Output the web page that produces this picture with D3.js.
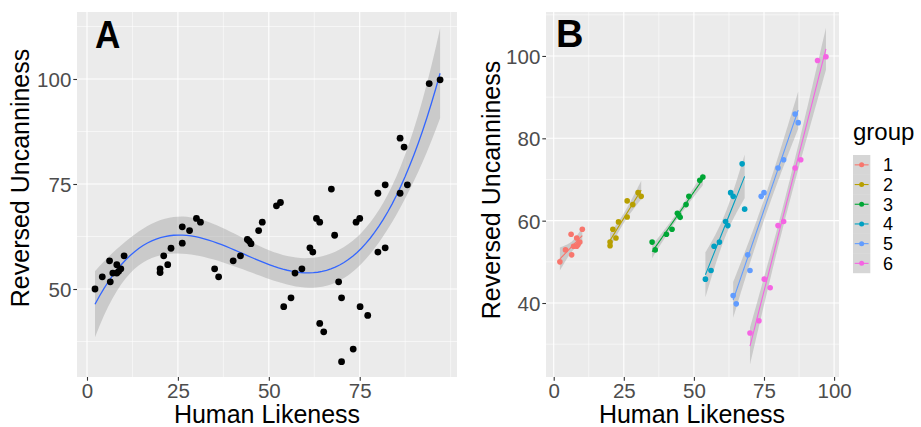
<!DOCTYPE html>
<html>
<head>
<meta charset="utf-8">
<script src="https://cdn.jsdelivr.net/npm/d3@7"></script>
<style>
  html, body { margin: 0; padding: 0; background: #fff; }
  svg { display: block; font-family: "Liberation Sans", Arial, sans-serif; }
</style>
</head>
<body>
<svg id="chart" width="921" height="427"></svg>
<script>
// ---------------- DATA ----------------
const likeness = [2.2, 4.2, 6.2, 6.4, 7.1, 8.2, 8.2, 8.7, 9.3, 10.2,
  20.1, 20.1, 21.1, 22.2, 23.1, 26.2, 26.2, 28.2, 30.1, 31.2,
  35.1, 36.2, 40.2, 42.2, 44.1, 44.6, 45.1, 47.2, 48.2, 52.1, 53.2,
  54.1, 56.1, 57.2, 59.1, 61.3, 62.1, 63.1, 64.0, 67.2, 68.1,
  64.0, 65.1, 69.2, 70.0, 74.0, 75.0, 80.0, 82.0, 86.1, 87.2,
  70.0, 73.2, 75.1, 77.2, 80.0, 82.0, 86.1, 88.1, 94.1, 97.1];
const uncanny = [50.0, 52.9, 56.7, 51.7, 53.8, 55.8, 53.8, 54.2, 54.8, 57.9,
  54.8, 53.9, 57.9, 55.8, 59.7, 60.9, 64.8, 63.9, 66.8, 65.9,
  54.8, 52.9, 56.7, 57.9, 61.8, 61.4, 60.8, 63.9, 65.9, 69.8, 70.6,
  45.8, 47.9, 53.8, 54.8, 59.8, 58.8, 66.8, 65.9, 73.8, 62.8,
  41.8, 39.8, 51.7, 47.9, 65.9, 66.8, 72.8, 74.8, 85.9, 83.8,
  32.7, 35.7, 45.8, 43.7, 58.8, 59.8, 72.8, 74.8, 98.9, 99.8];
const group = [1,1,1,1,1,1,1,1,1,1,
  2,2,2,2,2,2,2,2,2,2,
  3,3,3,3,3,3,3,3,3,3,3,
  4,4,4,4,4,4,4,4,4,4,
  5,5,5,5,5,5,5,5,5,5,
  6,6,6,6,6,6,6,6,6,6];
const groupLevels = [1, 2, 3, 4, 5, 6];
const groupColors = ["#F8766D", "#B79F00", "#00A635", "#00A0C2", "#619CFF", "#F564E3"];

const xTicksA = [0, 25, 50, 75];
const yTicksA = [50, 75, 100];
const xTicksB = [0, 25, 50, 75, 100];
const yTicksB = [40, 60, 80, 100];

// ---------------- FIT HELPERS (lm, like geom_smooth) ----------------
function invert(M) {
  const n = M.length;
  const A = M.map((r, i) => r.concat(Array.from({length: n}, (_, j) => i === j ? 1 : 0)));
  for (let c = 0; c < n; c++) {
    let p = c;
    for (let r = c + 1; r < n; r++) if (Math.abs(A[r][c]) > Math.abs(A[p][c])) p = r;
    [A[c], A[p]] = [A[p], A[c]];
    const d = A[c][c];
    for (let j = 0; j < 2 * n; j++) A[c][j] /= d;
    for (let r = 0; r < n; r++) if (r !== c) {
      const f = A[r][c];
      for (let j = 0; j < 2 * n; j++) A[r][j] -= f * A[c][j];
    }
  }
  return A.map(r => r.slice(n));
}
function tQuantile975(df) {
  const z = 1.959964;
  const g1 = (z ** 3 + z) / 4;
  const g2 = (5 * z ** 5 + 16 * z ** 3 + 3 * z) / 96;
  const g3 = (3 * z ** 7 + 19 * z ** 5 + 17 * z ** 3 - 15 * z) / 384;
  const g4 = (79 * z ** 9 + 776 * z ** 7 + 1482 * z ** 5 - 1920 * z ** 3 - 945 * z) / 92160;
  return z + g1 / df + g2 / df ** 2 + g3 / df ** 3 + g4 / df ** 4;
}
function polyFit(xs, ys, deg) {
  const c = d3.mean(xs), s = (d3.max(xs) - d3.min(xs)) / 2 || 1;
  const basis = x => { const u = (x - c) / s; return d3.range(deg + 1).map(k => u ** k); };
  const X = xs.map(basis);
  const p = deg + 1, n = xs.length;
  const XtX = d3.range(p).map(i => d3.range(p).map(j => d3.sum(X, r => r[i] * r[j])));
  const Xty = d3.range(p).map(i => d3.sum(X, (r, k) => r[i] * ys[k]));
  const inv = invert(XtX);
  const beta = inv.map(r => d3.sum(r, (v, j) => v * Xty[j]));
  const rss = d3.sum(X, (r, k) => (ys[k] - d3.sum(r, (v, j) => v * beta[j])) ** 2);
  const s2 = rss / (n - p);
  const t = tQuantile975(n - p);
  return x0 => {
    const v = basis(x0);
    const fit = d3.sum(v, (a, j) => a * beta[j]);
    let q = 0;
    for (let i = 0; i < p; i++) for (let j = 0; j < p; j++) q += v[i] * inv[i][j] * v[j];
    const se = Math.sqrt(s2 * q);
    return {x: x0, fit, lo: fit - t * se, hi: fit + t * se};
  };
}
function smoothCurve(xs, ys, deg) {
  const f = polyFit(xs, ys, deg);
  const x0 = d3.min(xs), x1 = d3.max(xs);
  return d3.range(80).map(i => f(x0 + (x1 - x0) * i / 79));
}

// ---------------- DRAW ----------------
const svg = d3.select("#chart");
const BG = "#EBEBEB";
const tickCol = "#333333";
const labCol = "#4D4D4D";

function panel(cfg) {
  const {x, y, xTicks, yTicks, xMinor, yMinor, clipId} = cfg;
  const [x0, x1] = x.range(), [y0, y1] = y.range();
  const g = svg.append("g");
  g.append("rect").attr("x", x0).attr("y", y1).attr("width", x1 - x0).attr("height", y0 - y1).attr("fill", BG);
  svg.append("clipPath").attr("id", clipId).append("rect")
    .attr("x", x0).attr("y", y1).attr("width", x1 - x0).attr("height", y0 - y1);
  g.selectAll(".vmin").data(xMinor).join("line")
    .attr("x1", d => x(d)).attr("x2", d => x(d)).attr("y1", y1).attr("y2", y0)
    .attr("stroke", "#fff").attr("stroke-width", 0.55);
  g.selectAll(".hmin").data(yMinor).join("line")
    .attr("y1", d => y(d)).attr("y2", d => y(d)).attr("x1", x0).attr("x2", x1)
    .attr("stroke", "#fff").attr("stroke-width", 0.55);
  g.selectAll(".vmaj").data(xTicks).join("line")
    .attr("x1", d => x(d)).attr("x2", d => x(d)).attr("y1", y1).attr("y2", y0)
    .attr("stroke", "#fff").attr("stroke-width", 1.1);
  g.selectAll(".hmaj").data(yTicks).join("line")
    .attr("y1", d => y(d)).attr("y2", d => y(d)).attr("x1", x0).attr("x2", x1)
    .attr("stroke", "#fff").attr("stroke-width", 1.1);
  const ax = g.append("g").attr("transform", `translate(0,${y0})`)
    .call(d3.axisBottom(x).tickValues(xTicks).tickSize(3.7).tickPadding(3));
  const ay = g.append("g").attr("transform", `translate(${x0},0)`)
    .call(d3.axisLeft(y).tickValues(yTicks).tickSize(3.7).tickPadding(2));
  [ax, ay].forEach(a => {
    a.select(".domain").remove();
    a.selectAll(".tick line").attr("stroke", tickCol).attr("stroke-width", 1.1);
    a.selectAll(".tick text").attr("fill", labCol).style("font-size", "20.5px")
      .style("font-family", "'Liberation Sans', Arial, sans-serif");
  });
  ax.selectAll(".tick text").attr("dy", null).attr("y", 21);
  ay.selectAll(".tick text").attr("dy", "0.36em");
  return g;
}

// ---- Panel A ----
const xA = d3.scaleLinear([-2.75, 101.75], [77, 457]);
const yA = d3.scaleLinear([29.05, 115.95], [377, 12]);
const gA = panel({x: xA, y: yA, xTicks: xTicksA, yTicks: yTicksA,
  xMinor: [12.5, 37.5, 62.5, 87.5, 100], yMinor: [37.5, 62.5, 87.5, 112.5], clipId: "clipA"});
const curveA = smoothCurve(likeness, uncanny, 3);
const plotA = gA.append("g").attr("clip-path", "url(#clipA)");
plotA.append("path").datum(curveA)
  .attr("d", d3.area().x(d => xA(d.x)).y0(d => yA(d.lo)).y1(d => yA(d.hi)))
  .attr("fill", "#999999").attr("fill-opacity", 0.4);
plotA.append("path").datum(curveA)
  .attr("d", d3.line().x(d => xA(d.x)).y(d => yA(d.fit)))
  .attr("fill", "none").attr("stroke", "#3366FF").attr("stroke-width", 1.3);
plotA.selectAll("circle").data(likeness.map((v, i) => i)).join("circle")
  .attr("cx", i => xA(likeness[i])).attr("cy", i => yA(uncanny[i])).attr("r", 3.4).attr("fill", "#000");

svg.append("text").attr("transform", "translate(95,48) scale(0.9,1)").text("A")
  .style("font-size", "39px").style("font-weight", "bold").attr("fill", "#000");
svg.append("text").attr("transform", `translate(28.5,178) rotate(-90)`).attr("text-anchor", "middle")
  .style("font-size", "25px").attr("fill", "#000").text("Reversed Uncanniness");
svg.append("text").attr("x", 267).attr("y", 423).attr("text-anchor", "middle")
  .style("font-size", "25px").attr("fill", "#000").text("Human Likeness");

// ---- Panel B ----
const xB = d3.scaleLinear([-2.75, 101.75], [546, 839]);
const yB = d3.scaleLinear([22.03, 110.68], [377, 12]);
const color = d3.scaleOrdinal(groupLevels, groupColors);
const gB = panel({x: xB, y: yB, xTicks: xTicksB, yTicks: yTicksB,
  xMinor: [12.5, 37.5, 62.5, 87.5], yMinor: [30, 50, 70, 90, 110], clipId: "clipB"});
const plotB = gB.append("g").attr("clip-path", "url(#clipB)");
groupLevels.forEach(gv => {
  const idx = group.map((v, i) => v === gv ? i : -1).filter(i => i >= 0);
  const xs = idx.map(i => likeness[i]), ys = idx.map(i => uncanny[i]);
  const cur = smoothCurve(xs, ys, 1);
  plotB.append("path").datum(cur)
    .attr("d", d3.area().x(d => xB(d.x)).y0(d => yB(d.lo)).y1(d => yB(d.hi)))
    .attr("fill", "#999999").attr("fill-opacity", 0.4);
  plotB.append("path").datum(cur)
    .attr("d", d3.line().x(d => xB(d.x)).y(d => yB(d.fit)))
    .attr("fill", "none").attr("stroke", color(gv)).attr("stroke-width", 1.1);
});
plotB.selectAll("circle").data(likeness.map((v, i) => i)).join("circle")
  .attr("cx", i => xB(likeness[i])).attr("cy", i => yB(uncanny[i])).attr("r", 2.8)
  .attr("fill", i => color(group[i]));

svg.append("text").attr("x", 556).attr("y", 47).text("B")
  .style("font-size", "38px").style("font-weight", "bold").attr("fill", "#000");
svg.append("text").attr("transform", `translate(499.5,190) rotate(-90)`).attr("text-anchor", "middle")
  .style("font-size", "25px").attr("fill", "#000").text("Reversed Uncanniness");
svg.append("text").attr("x", 692).attr("y", 423).attr("text-anchor", "middle")
  .style("font-size", "25px").attr("fill", "#000").text("Human Likeness");

// ---- Legend ----
const lg = svg.append("g");
lg.append("text").attr("x", 853).attr("y", 140).style("font-size", "24px").attr("fill", "#000").text("group");
const keyH = 19.7, keyTop = 155, keyX = 853, keyW = 17.3;
groupLevels.forEach((gv, i) => {
  const cy = keyTop + keyH * (i + 0.5);
  lg.append("rect").attr("x", keyX).attr("y", keyTop + keyH * i).attr("width", keyW).attr("height", keyH)
    .attr("fill", "#999999").attr("fill-opacity", 0.4).attr("stroke", "none");
  lg.append("line").attr("x1", keyX + 1.7).attr("x2", keyX + keyW - 1.7).attr("y1", cy).attr("y2", cy)
    .attr("stroke", color(gv)).attr("stroke-width", 1.1);
  lg.append("circle").attr("cx", keyX + keyW / 2).attr("cy", cy).attr("r", 2.5).attr("fill", color(gv));
  lg.append("text").attr("x", 883).attr("y", cy).attr("dy", "0.36em").style("font-size", "18px")
    .attr("fill", "#000").text(gv);
});
</script>
</body>
</html>
